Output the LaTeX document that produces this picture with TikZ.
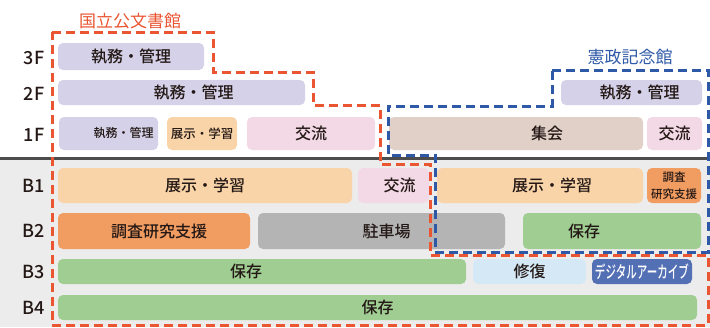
\documentclass[tikz,border=0pt]{standalone}
\usepackage{fontspec}
\usepackage{graphicx}
\setmainfont{Noto Sans CJK JP}[UprightFont=* Medium]
\newfontfamily\titlefont{Noto Sans CJK JP}
\definecolor{ncred}{RGB}{234, 85, 50}
\definecolor{ncblue}{RGB}{46, 89, 166}
\definecolor{inkdark}{RGB}{35, 24, 21}
\definecolor{adminlav}{RGB}{212, 209, 232}
\definecolor{expopeach}{RGB}{249, 212, 169}
\definecolor{meetpink}{RGB}{243, 216, 230}
\definecolor{hallbeige}{RGB}{224, 208, 200}
\definecolor{researchorange}{RGB}{241, 156, 97}
\definecolor{parkgray}{RGB}{180, 180, 180}
\definecolor{storegreen}{RGB}{159, 205, 146}
\definecolor{repairblue}{RGB}{213, 232, 246}
\definecolor{digiblue}{RGB}{84, 112, 181}
\definecolor{basement}{RGB}{237, 236, 236}
\definecolor{slab}{RGB}{77, 77, 77}

\tikzset{
  room/.style={rounded corners=5pt, inner sep=0pt, outer sep=0pt, text=inkdark, font=\fontsize{16}{16}\selectfont},
  roomtext/.style={inner sep=0pt, text=inkdark, font=\fontsize{16}{16}\selectfont},
  floorlbl/.style={text=inkdark, font=\fontsize{18}{18}\selectfont},
  border/.style={line width=3pt, dash pattern=on 9pt off 5pt, line join=miter},
}

\begin{document}
\begin{tikzpicture}[x=1pt, y=-1pt]
\useasboundingbox (0,0) rectangle (710,327);
% basement and ground line
\fill[basement] (0,159) rectangle (710,327);
\draw[slab, line width=3pt] (0,158.5) -- (710,158.5);

% floor labels
\node[floorlbl] (l3f) at (34,58) {3F};
\node[floorlbl] (l2f) at (34,94) {2F};
\node[floorlbl] (l1f) at (34,135) {1F};
\node[floorlbl] (lb1) at (34,185.5) {B1};
\node[floorlbl] (lb2) at (34,231) {B2};
\node[floorlbl] (lb3) at (34,271.5) {B3};
\node[floorlbl] (lb4) at (34,307.5) {B4};

% 3F and 2F
\node[room, fill=adminlav, minimum width=146pt, minimum height=27pt] (f3) at (131,56.5) {執務・管理};
\node[room, fill=adminlav, minimum width=247pt, minimum height=25pt, label={[roomtext, xshift=12pt]center:執務・管理}] (f2a) at (181.5,92.5) {};
\node[room, fill=adminlav, minimum width=141pt, minimum height=25pt, label={[roomtext, xshift=8pt]center:執務・管理}] (f2b) at (631.5,92.5) {};

% 1F
\node[room, fill=adminlav, minimum width=99pt, minimum height=33pt, label={[roomtext, xshift=15pt, font=\fontsize{12}{12}\selectfont]center:執務・管理}] (f1a) at (108.5,133.5) {};
\node[room, fill=expopeach, minimum width=70pt, minimum height=33pt, font=\fontsize{12.5}{12.5}\selectfont] (f1b) at (202,133.5) {展示・学習};
\node[room, fill=meetpink, minimum width=128pt, minimum height=33pt] (f1c) at (311,133.5) {交流};
\node[room, fill=hallbeige, minimum width=254pt, minimum height=33pt, label={[roomtext, xshift=31pt]center:集会}] (f1d) at (516,133.5) {};
\node[room, fill=meetpink, minimum width=55pt, minimum height=33pt] (f1e) at (674.5,133.5) {交流};

% B1
\node[room, fill=expopeach, minimum width=294pt, minimum height=35pt] (b1a) at (205,185.5) {展示・学習};
\node[room, fill=meetpink, minimum width=71pt, minimum height=35pt, label={[roomtext, xshift=6pt]center:交流}] (b1b) at (393.5,185.5) {};
\node[room, fill=expopeach, minimum width=206pt, minimum height=35pt, label={[roomtext, xshift=12pt]center:展示・学習}] (b1c) at (540,185.5) {};
\node[room, fill=researchorange, minimum width=54pt, minimum height=35pt, align=center, font=\fontsize{11.5}{17}\selectfont] (b1d) at (674,185.5) {調査\\研究支援};

% B2
\node[room, fill=researchorange, minimum width=192pt, minimum height=36pt, label={[roomtext, xshift=5pt]center:調査研究支援}] (b2a) at (154,231) {};
\node[room, fill=parkgray, minimum width=247pt, minimum height=36pt, label={[roomtext, xshift=5pt]center:駐車場}] (b2b) at (381.5,231) {};
\node[room, fill=storegreen, minimum width=178pt, minimum height=36pt, label={[roomtext, xshift=-28pt]center:保存}] (b2c) at (612,231) {};

% B3
\node[room, fill=storegreen, minimum width=408pt, minimum height=25pt, label={[roomtext, xshift=-16pt]center:保存}] (b3a) at (262,271.5) {};
\node[room, fill=repairblue, minimum width=113pt, minimum height=25pt] (b3b) at (529.5,271.5) {修復};
\node[room, fill=digiblue, minimum width=100pt, minimum height=25pt, text=white, font=\fontsize{17}{17}\selectfont] (b3c) at (642,271.5) {\scalebox{0.62}[1]{デジタルアーカイブ}};

% B4
\node[room, fill=storegreen, minimum width=639pt, minimum height=25pt] (b4a) at (377.5,307.5) {保存};

% building outlines
\draw[border, ncred] (52,32) -- (213,32) -- (213,72) -- (313,72) -- (313,105) -- (380,105)
  -- (380,164) -- (430,164) -- (430,255) -- (708,255) -- (708,325) -- (52,325) -- cycle;
\draw[border, ncblue] (552,70) -- (708,70) -- (708,252) -- (435,252) -- (435,155)
  -- (388,155) -- (388,106) -- (552,106) -- cycle;

% building names
\node[text=ncred, font=\titlefont\fontsize{17}{17}\selectfont] (archives) at (130,21) {国立公文書館};
\node[text=ncblue, font=\titlefont\fontsize{17}{17}\selectfont] (kensei) at (630,57) {憲政記念館};
\end{tikzpicture}
\end{document}
